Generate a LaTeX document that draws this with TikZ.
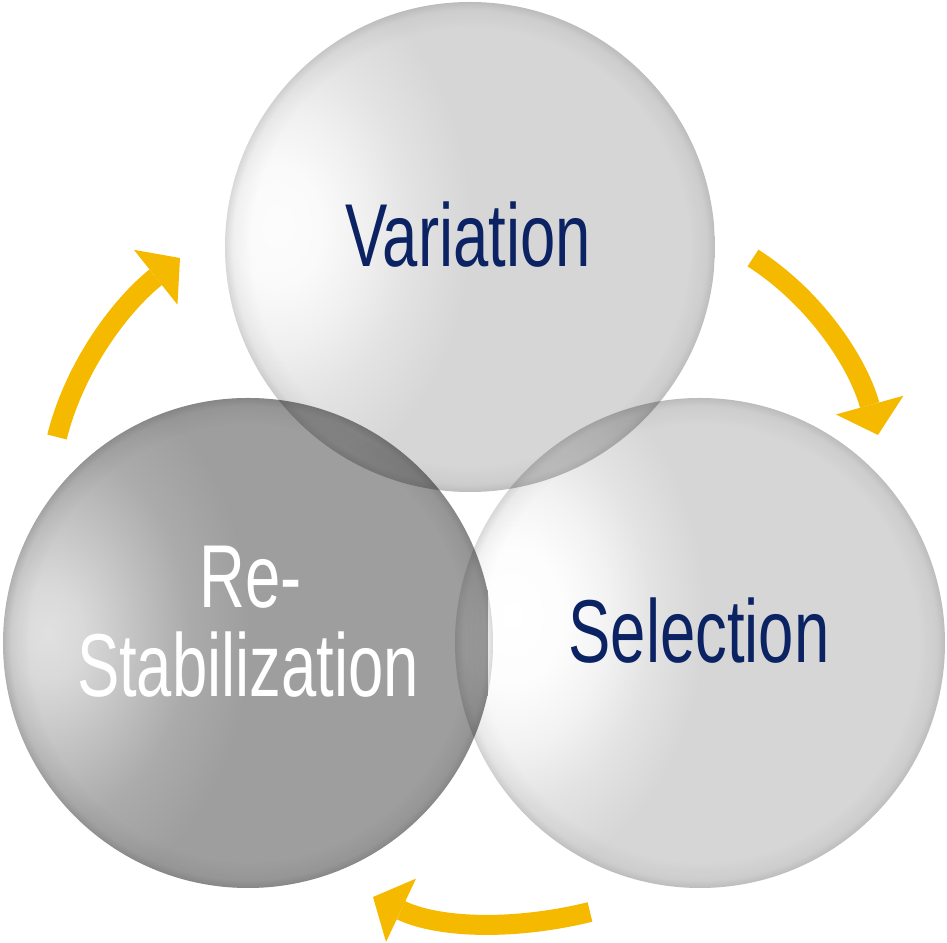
\documentclass[tikz,border=0pt]{standalone}
\usepackage{fontspec}
\newfontfamily\lblfont[FakeStretch=0.71]{Liberation Sans}
\usetikzlibrary{arrows.meta}
\definecolor{arrowyellow}{HTML}{F5BA00}
\definecolor{navy}{HTML}{0B2263}
\definecolor{lbody}{HTML}{D6D6D6}
\definecolor{dbody}{HTML}{9E9E9E}
% sphere bodies with a soft highlight (stretched to an ellipse by the shaded rectangle)
\pgfdeclareradialshading{bodyV}{\pgfpoint{0bp}{0bp}}{color(0bp)=(white!99!black); color(2.5bp)=(white!98!black); color(5bp)=(white!94!black); color(7.5bp)=(white!89!black); color(11bp)=(lbody); color(40bp)=(lbody)}
\pgfdeclareradialshading{bodyS}{\pgfpoint{0bp}{0bp}}{color(0bp)=(white); color(3bp)=(white!99!black); color(5.5bp)=(white!95!black); color(8bp)=(white!89!black); color(11bp)=(lbody); color(40bp)=(lbody)}
\pgfdeclareradialshading{bodyR}{\pgfpoint{0bp}{0bp}}{color(0bp)=(white!88!black); color(2bp)=(white!85!black); color(5bp)=(white!76!black); color(8bp)=(white!67!black); color(11.5bp)=(dbody); color(40bp)=(dbody)}
\pgfdeclareradialshading{lightrim}{\pgfpoint{0bp}{0bp}}{color(0bp)=(white); color(22.3bp)=(white); color(24.2bp)=(black!4); color(25bp)=(black!12); color(30bp)=(black!12)}
\pgfdeclareradialshading{darkrim}{\pgfpoint{0bp}{0bp}}{color(0bp)=(white); color(22.3bp)=(white); color(24.2bp)=(black!5); color(25bp)=(black!15); color(30bp)=(black!15)}
\begin{document}
\begin{tikzpicture}[x=0.01cm,y=-0.01cm,
  cyclearrow/.style={draw=arrowyellow, line width=0.2cm,
    -{Triangle[width=0.7cm,length=0.31cm,line width=0pt]}},
  lbl/.style={font=\lblfont\fontsize{25.4pt}{30pt}\selectfont, inner sep=0pt, anchor=base},
  mult/.style={blend mode=multiply}]
\useasboundingbox (0,0) rectangle (947,943);
\coordinate (cV) at (470,247);
\coordinate (cS) at (700,643);
\coordinate (cR) at (248,643);
\coordinate (hV) at (278,227);
\coordinate (hS) at (512,615);
\coordinate (hR) at (48,633);
% sphere bodies
\begin{scope}
  \clip (cV) circle (245);
  \shade[shading=bodyV, mult] ([shift={(-440,-595)}]hV) rectangle ([shift={(440,595)}]hV);
\end{scope}
\begin{scope}
  \clip (cS) circle (245);
  \shade[shading=bodyS, mult] ([shift={(-440,-595)}]hS) rectangle ([shift={(440,595)}]hS);
\end{scope}
\begin{scope}
  \clip (cR) circle (245);
  \shade[shading=bodyR, mult] ([shift={(-440,-595)}]hR) rectangle ([shift={(440,595)}]hR);
\end{scope}
% rims
\shade[shading=lightrim, mult] (cV) circle (245);
\shade[shading=lightrim, mult] (cS) circle (245);
\shade[shading=darkrim, mult] (cR) circle (245);
% labels
\node[lbl, text=navy] (var) at (468,267) {Variation};
\node[lbl, text=navy] (sel) at (699,663) {Selection};
\node[lbl, text=white] (re) at (251,608) {Re-};
\node[lbl, text=white] (stab) at (248,697) {Stabilization};
% arrows
\coordinate (a1s) at (753,258);
\coordinate (a1e) at (878,435);
\coordinate (a2s) at (590,912);
\coordinate (a2e) at (373,897);
\coordinate (a3s) at (57,437);
\coordinate (a3e) at (180,258);
\draw[cyclearrow] (a1s) .. controls (816,298.5) and (858,363) .. (a1e);
\draw[cyclearrow] (a2s) .. controls (517,930) and (440.5,929) .. (a2e);
\draw[cyclearrow] (a3s) .. controls (75,365) and (122,304) .. (a3e);
\end{tikzpicture}
\end{document}
